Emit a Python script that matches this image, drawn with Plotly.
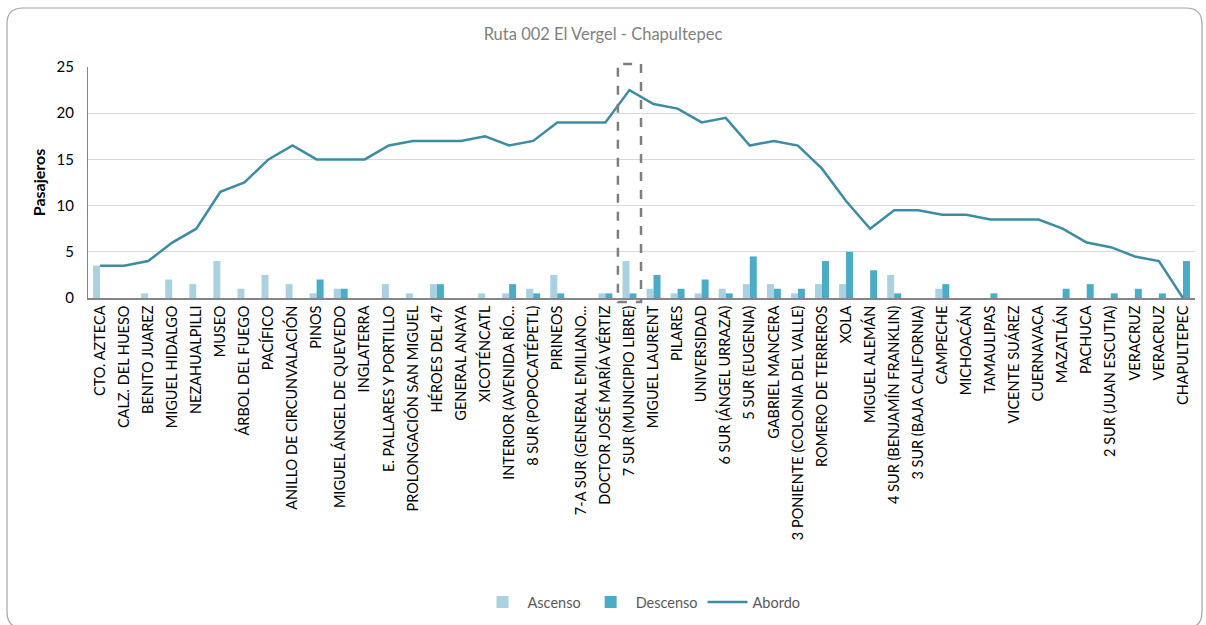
import plotly.graph_objects as go

stops = [
    "CTO. AZTECA", "CALZ. DEL HUESO", "BENITO JUAREZ", "MIGUEL HIDALGO", "NEZAHUALPILLI",
    "MUSEO", "ÁRBOL DEL FUEGO", "PACÍFICO", "ANILLO DE CIRCUNVALACIÓN", "PINOS",
    "MIGUEL ÁNGEL DE QUEVEDO", "INGLATERRA", "E. PALLARES Y PORTILLO", "PROLONGACIÓN SAN MIGUEL",
    "HÉROES DEL 47", "GENERAL ANAYA", "XICOTÉNCATL", "INTERIOR (AVENIDA RÍO...",
    "8 SUR (POPOCATÉPETL)", "PIRINEOS", "7-A SUR (GENERAL EMILIANO...", "DOCTOR JOSÉ MARÍA VÉRTIZ",
    "7 SUR (MUNICIPIO LIBRE)", "MIGUEL LAURENT", "PILARES", "UNIVERSIDAD", "6 SUR (ÁNGEL URRAZA)",
    "5 SUR (EUGENIA)", "GABRIEL MANCERA", "3 PONIENTE (COLONIA DEL VALLE)", "ROMERO DE TERREROS",
    "XOLA", "MIGUEL ALEMÁN", "4 SUR (BENJAMÍN FRANKLIN)", "3 SUR (BAJA CALIFORNIA)", "CAMPECHE",
    "MICHOACÁN", "TAMAULIPAS", "VICENTE SUÁREZ", "CUERNAVACA", "MAZATLÁN", "PACHUCA",
    "2 SUR (JUAN ESCUTIA)", "VERACRUZ", "VERACRUZ", "CHAPULTEPEC",
]

ascenso = [3.5, 0, 0.5, 2, 1.5, 4, 1, 2.5, 1.5, 0.5,
           1, 0, 1.5, 0.5, 1.5, 0, 0.5, 0.5, 1, 2.5,
           0, 0.5, 4, 1, 0.5, 0.5, 1, 1.5, 1.5, 0.5,
           1.5, 1.5, 0, 2.5, 0, 1, 0, 0, 0, 0,
           0, 0, 0, 0, 0, 0]

descenso = [0, 0, 0, 0, 0, 0, 0, 0, 0, 2,
            1, 0, 0, 0, 1.5, 0, 0, 1.5, 0.5, 0.5,
            0, 0.5, 0.5, 2.5, 1, 2, 0.5, 4.5, 1, 1,
            4, 5, 3, 0.5, 0, 1.5, 0, 0.5, 0, 0,
            1, 1.5, 0.5, 1, 0.5, 4]

abordo = [3.5, 3.5, 4, 6, 7.5, 11.5, 12.5, 15, 16.5, 15,
          15, 15, 16.5, 17, 17, 17, 17.5, 16.5, 17, 19,
          19, 19, 22.5, 21, 20.5, 19, 19.5, 16.5, 17, 16.5,
          14, 10.5, 7.5, 9.5, 9.5, 9, 9, 8.5, 8.5, 8.5,
          7.5, 6, 5.5, 4.5, 4, 0]

highlight_index = 22
y_ticks = [0, 5, 10, 15, 20, 25]

idx = list(range(len(stops)))
n = len(stops)
font_family = "Lato, 'Open Sans', sans-serif"

fig = go.Figure()
fig.add_trace(go.Bar(x=idx, y=ascenso, name="Ascenso", marker=dict(color="#A9D1DF", line=dict(width=0))))
fig.add_trace(go.Bar(x=idx, y=descenso, name="Descenso", marker=dict(color="#4BACC6", line=dict(width=0))))
fig.add_trace(go.Scatter(x=idx, y=abordo, name="Abordo", mode="lines",
                         line=dict(color="#3C8DA3", width=2.5)))

# plot area pixel geometry
W, H = 1206, 625
L, R, T, B = 88, 1195, 67, 298

def px(x):
    return (x - L) / (R - L)

def py(y):
    return (B - y) / (B - T)

# rounded outer border
x0, x1, y0, y1, r = 7, 1202, 8, 628, 16
path = (
    f"M {px(x0 + r)} {py(y0)} L {px(x1 - r)} {py(y0)} "
    f"Q {px(x1)} {py(y0)} {px(x1)} {py(y0 + r)} "
    f"L {px(x1)} {py(y1 - r)} Q {px(x1)} {py(y1)} {px(x1 - r)} {py(y1)} "
    f"L {px(x0 + r)} {py(y1)} Q {px(x0)} {py(y1)} {px(x0)} {py(y1 - r)} "
    f"L {px(x0)} {py(y0 + r)} Q {px(x0)} {py(y0)} {px(x0 + r)} {py(y0)} Z"
)

fig.update_layout(
    width=W, height=H,
    margin=dict(l=L, r=W - R, t=T, b=H - B, autoexpand=False),
    paper_bgcolor="white", plot_bgcolor="white",
    barmode="group", bargap=0.42, bargroupgap=0,
    font=dict(family=font_family, color="#262626"),
    title=dict(text="Ruta 002 El Vergel - Chapultepec", x=0.5, xanchor="center",
               y=1 - 34 / H, yanchor="middle",
               font=dict(size=16.5, color="#7F7F7F", family=font_family)),
    showlegend=True,
    legend=dict(orientation="h", x=0.5, xanchor="center", xref="paper",
                y=py(602), yanchor="middle",
                font=dict(size=14.5, color="#595959"), itemwidth=40),
    xaxis=dict(
        tickmode="array", tickvals=idx, ticktext=stops, tickangle=-90,
        range=[-0.5, n - 0.5],
        showgrid=False, showline=True, linecolor="#868686", linewidth=1.5,
        ticks="", tickfont=dict(size=14.5, color="#000000"),
    ),
    yaxis=dict(
        range=[0, 25], tickvals=y_ticks, showgrid=True, gridcolor="#D9D9D9",
        gridwidth=1, zeroline=False, showline=True, linecolor="#868686", linewidth=1,
        ticks="", tickfont=dict(size=15, color="#000000"), ticklabelstandoff=10,
        title=dict(text="<b>Pasajeros</b>", font=dict(size=16, color="#000000"), standoff=6),
    ),
    shapes=[
        dict(type="rect", xref="paper", yref="paper",
             x0=(highlight_index - 0.48 + 0.5) / n, x1=(highlight_index + 0.48 + 0.5) / n,
             y0=py(302), y1=py(64),
             line=dict(color="#7F7F7F", width=2.5, dash="dash"), fillcolor="rgba(0,0,0,0)"),
        dict(type="path", xref="paper", yref="paper", path=path,
             line=dict(color="#A6A6A6", width=1.2), fillcolor="rgba(0,0,0,0)", layer="below"),
    ],
)

fig.write_html("out.html", config={"displayModeBar": False},
               post_script="document.body.style.margin='0';")
